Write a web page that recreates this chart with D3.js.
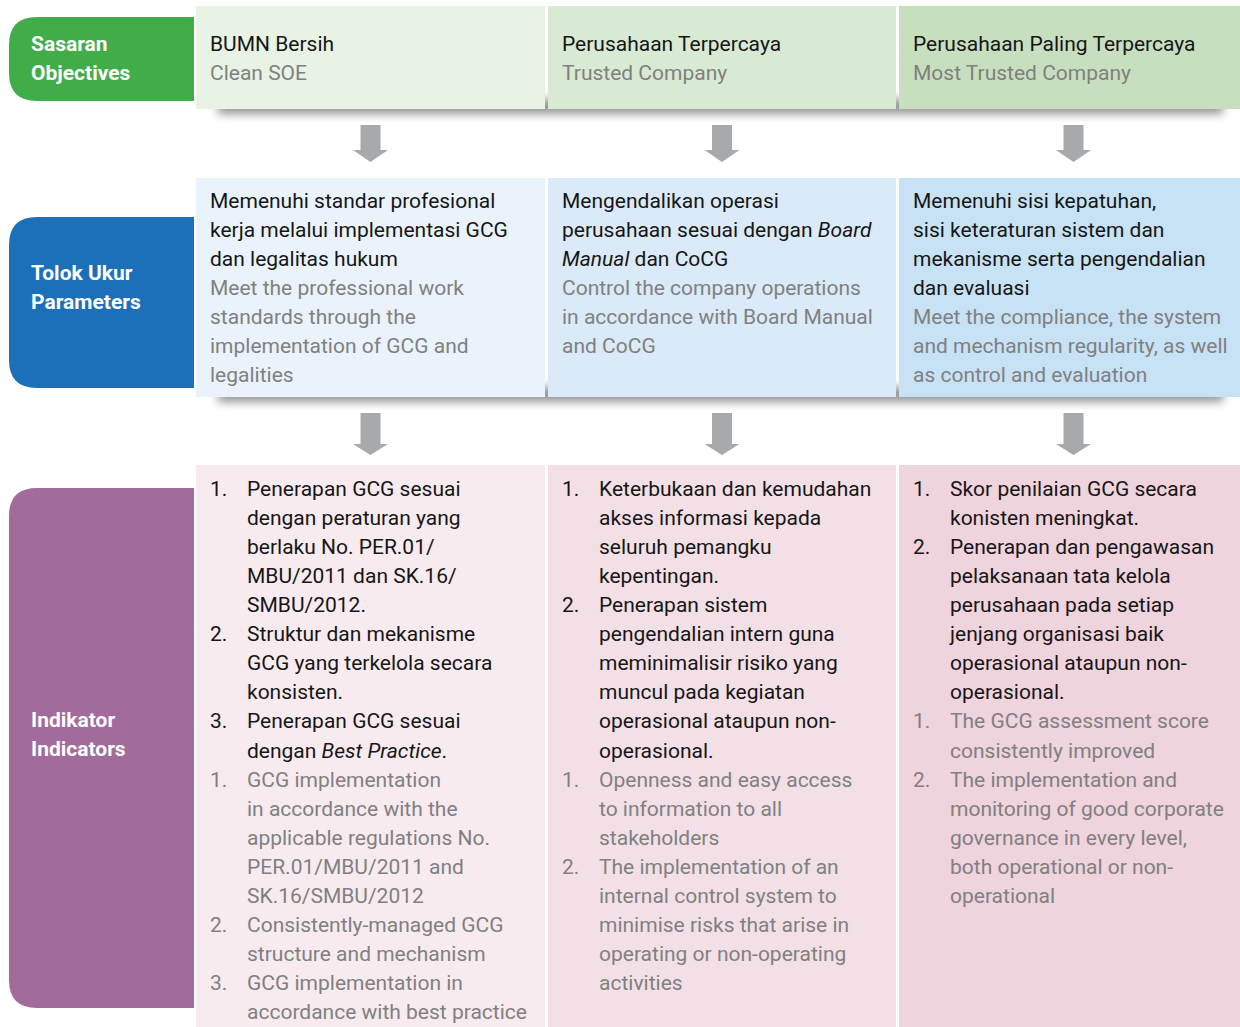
<!DOCTYPE html>
<html><head><meta charset="utf-8">
<script src="https://cdn.jsdelivr.net/npm/d3@7"></script>
<style>html,body{margin:0;padding:0;background:#fff}svg{display:block}</style>
</head><body>
<script>
// ---- data ----
const rowLabels = [["Sasaran","Objectives"],["Tolok Ukur","Parameters"],["Indikator","Indicators"]];
const objectivesID = ["BUMN Bersih","Perusahaan Terpercaya","Perusahaan Paling Terpercaya"];
const objectivesEN = ["Clean SOE","Trusted Company","Most Trusted Company"];
const parametersID = [
  ["Memenuhi standar profesional","kerja melalui implementasi GCG","dan legalitas hukum"],
  ["Mengendalikan operasi","perusahaan sesuai dengan *Board*","*Manual* dan CoCG"],
  ["Memenuhi sisi kepatuhan,","sisi keteraturan sistem dan","mekanisme serta pengendalian","dan evaluasi"]
];
const parametersEN = [
  ["Meet the professional work","standards through the","implementation of GCG and","legalities"],
  ["Control the company operations","in accordance with Board Manual","and CoCG"],
  ["Meet the compliance, the system","and mechanism regularity, as well","as control and evaluation"]
];
const indicatorsID = [
  [["Penerapan GCG sesuai","dengan peraturan yang","berlaku No. PER.01/","MBU/2011 dan SK.16/","SMBU/2012."],
   ["Struktur dan mekanisme","GCG yang terkelola secara","konsisten."],
   ["Penerapan GCG sesuai","dengan *Best Practice*."]],
  [["Keterbukaan dan kemudahan","akses informasi kepada","seluruh pemangku","kepentingan."],
   ["Penerapan sistem","pengendalian intern guna","meminimalisir risiko yang","muncul pada kegiatan","operasional ataupun non-","operasional."]],
  [["Skor penilaian GCG secara","konisten meningkat."],
   ["Penerapan dan pengawasan","pelaksanaan tata kelola","perusahaan pada setiap","jenjang organisasi baik","operasional ataupun non-","operasional."]]
];
const indicatorsEN = [
  [["GCG implementation","in accordance with the","applicable regulations No.","PER.01/MBU/2011 and","SK.16/SMBU/2012"],
   ["Consistently-managed GCG","structure and mechanism"],
   ["GCG implementation in","accordance with best practice"]],
  [["Openness and easy access","to information to all","stakeholders"],
   ["The implementation of an","internal control system to","minimise risks that arise in","operating or non-operating","activities"]],
  [["The GCG assessment score","consistently improved"],
   ["The implementation and","monitoring of good corporate","governance in every level,","both operational or non-","operational"]]
];

// ---- layout / style ----
const W = 1240, H = 1027;
const pillColors = ["#41ad49","#1c6fb9","#a36a9c"];
const cellColors = [["#e8f3e6","#d9ead4","#c8dfbf"],["#eaf3fc","#dbeaf8","#c8e2f5"],["#f8ebf0","#f3e0e7","#efd3dd"]];
const rows = [{y0:6,y1:109},{y0:178,y1:397},{y0:465,y1:1030}];
const pills = [{y0:17,y1:101,ly:44},{y0:217,y1:388,ly:273},{y0:488,y1:1008,ly:720}];
const colX = [196,548,899], colW = [349,348,345];
const lh = 29.06;
const font = "Roboto, 'Noto Sans', sans-serif";
const black = "#161616", gray = "#808080";

const svg = d3.select("body").append("svg").attr("width",W).attr("height",H);
const defs = svg.append("defs");
const f = defs.append("filter").attr("id","sh").attr("x","-10%").attr("y","-200%").attr("width","120%").attr("height","500%");
f.append("feGaussianBlur").attr("stdDeviation",5);

// shadows under rows 1 and 2
[0,1].forEach(r=>{
  svg.append("rect").attr("x",218).attr("y",rows[r].y1-10).attr("width",1005).attr("height",15)
    .attr("fill","#000").attr("opacity",0.42).attr("filter","url(#sh)");
});

// pills
function pillPath(x0,x1,y0,y1,r){
  return `M${x1},${y0} L${x0+r},${y0} Q${x0},${y0} ${x0},${y0+r} L${x0},${y1-r} Q${x0},${y1} ${x0+r},${y1} L${x1},${y1} Z`;
}
pills.forEach((p,i)=>{
  svg.append("path").attr("d",pillPath(9,194,p.y0,p.y1,28)).attr("fill",pillColors[i]);
  rowLabels[i].forEach((t,j)=>{
    svg.append("text").attr("x",31).attr("y",p.ly+lh*j+7).text(t)
      .attr("font-family",font).attr("font-weight",700).attr("font-size",21).attr("fill","#fff");
  });
});

// cells
rows.forEach((r,ri)=>{
  colX.forEach((x,ci)=>{
    svg.append("rect").attr("x",x).attr("y",r.y0).attr("width",colW[ci]).attr("height",r.y1-r.y0).attr("fill",cellColors[ri][ci]);
  });
});

// arrows
const arrowY = [[125,150,162],[413,444,455]];
arrowY.forEach(a=>{
  colX.forEach((x,ci)=>{
    const cx = x+ (ci==2?174.5:colW[ci]/2);
    svg.append("path").attr("d",`M${cx-10},${a[0]} L${cx+10},${a[0]} L${cx+10},${a[1]} L${cx+17.5},${a[1]} L${cx},${a[2]} L${cx-17.5},${a[1]} L${cx-10},${a[1]} Z`)
      .attr("fill","#a7a9ab");
  });
});

// text helper with *italic* segments
function addLine(x,y,str,color){
  const t = svg.append("text").attr("x",x).attr("y",y).attr("font-family",font).attr("font-size",21).attr("fill",color);
  str.split(/(\*[^*]+\*)/).filter(s=>s.length).forEach(s=>{
    if(s.startsWith("*")) t.append("tspan").attr("font-style","italic").text(s.slice(1,-1));
    else t.append("tspan").text(s);
  });
}
const lineY = (r,i)=> r + i*lh + 7;

// row 1
colX.forEach((x,ci)=>{
  addLine(x+14, lineY(44,0), objectivesID[ci], black);
  addLine(x+14, lineY(44,1), objectivesEN[ci], gray);
});
// row 2
colX.forEach((x,ci)=>{
  let i=0;
  parametersID[ci].forEach(s=>addLine(x+14, lineY(200.5,i++), s, black));
  parametersEN[ci].forEach(s=>addLine(x+14, lineY(200.5,i++), s, gray));
});
// row 3
colX.forEach((x,ci)=>{
  let i=0;
  [[indicatorsID[ci],black],[indicatorsEN[ci],gray]].forEach(([items,col])=>{
    items.forEach((lines,k)=>{
      addLine(x+14, lineY(489,i), (k+1)+".", col);
      lines.forEach(s=>addLine(x+51, lineY(489,i++), s, col));
    });
  });
});
</script>
</body></html>
